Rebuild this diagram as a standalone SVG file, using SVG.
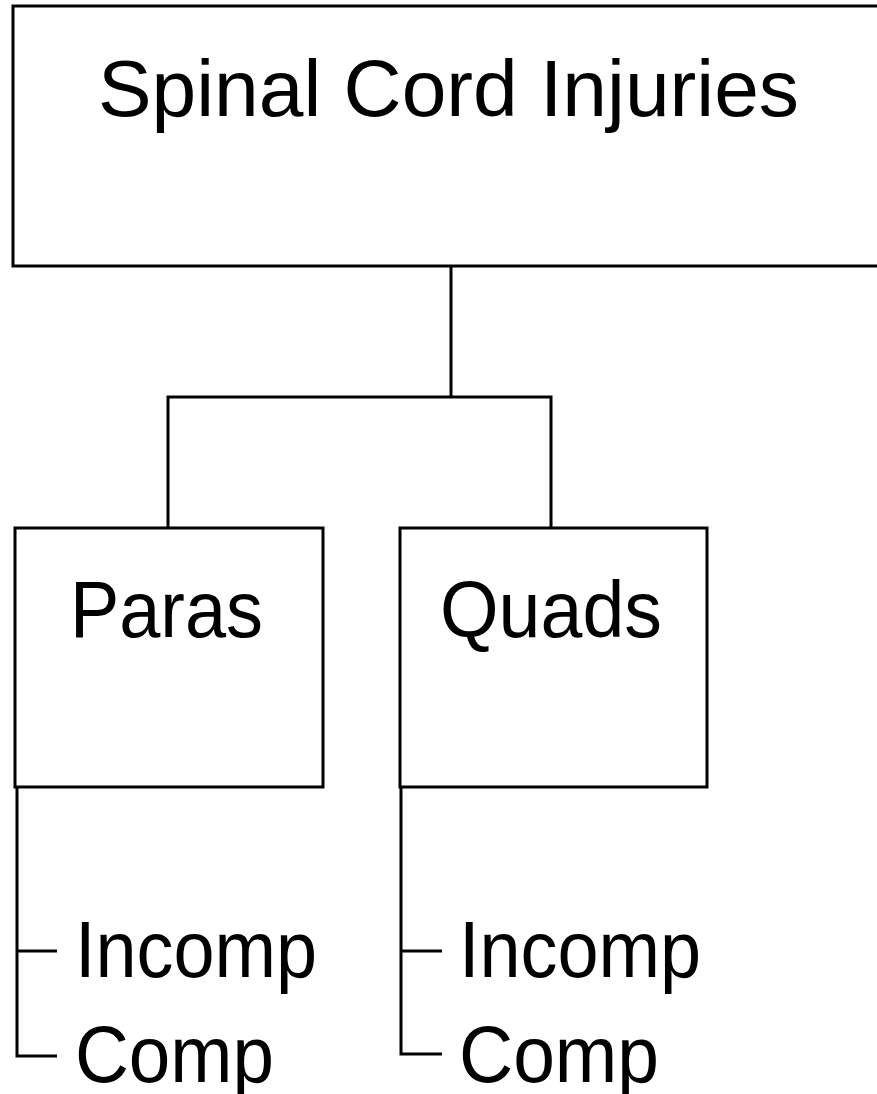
<svg xmlns="http://www.w3.org/2000/svg" width="877" height="1094" viewBox="0 0 877 1094">
<style>
.box{fill:#fff;stroke:#000;stroke-width:3}
.ln{fill:none;stroke:#000;stroke-width:3}
.t{font-family:"Liberation Sans",Arial,sans-serif;font-size:80px;fill:#000;font-weight:normal}
</style>
<rect width="877" height="1094" fill="#fff"/>
<g id="connectors">
<polyline class="ln" points="451,266 451,397"/>
<polyline class="ln" points="168,528 168,397 551,397 551,528"/>
<polyline class="ln" points="17,787 17,1056 57,1056"/>
<line class="ln" x1="17" y1="951" x2="57" y2="951"/>
<polyline class="ln" points="401,787 401,1054 442,1054"/>
<line class="ln" x1="401" y1="951" x2="442" y2="951"/>
</g>
<g id="node-sci">
<rect class="box" x="13" y="6" width="880" height="260"/>
<text class="t" x="98" y="116" textLength="701" lengthAdjust="spacingAndGlyphs">Spinal Cord Injuries</text>
</g>
<g id="node-paras">
<rect class="box" x="15" y="528" width="308" height="259"/>
<text class="t" x="70" y="637" textLength="193" lengthAdjust="spacingAndGlyphs">Paras</text>
</g>
<g id="node-quads">
<rect class="box" x="400" y="528" width="307" height="259"/>
<text class="t" x="440" y="637" textLength="222" lengthAdjust="spacingAndGlyphs">Quads</text>
</g>
<g id="node-paras-incomp">
<text class="t" x="75" y="977" textLength="242" lengthAdjust="spacingAndGlyphs">Incomp</text>
</g>
<g id="node-paras-comp">
<text class="t" x="75" y="1082" textLength="199" lengthAdjust="spacingAndGlyphs">Comp</text>
</g>
<g id="node-quads-incomp">
<text class="t" x="459" y="977" textLength="242" lengthAdjust="spacingAndGlyphs">Incomp</text>
</g>
<g id="node-quads-comp">
<text class="t" x="459" y="1082" textLength="200" lengthAdjust="spacingAndGlyphs">Comp</text>
</g>
</svg>
